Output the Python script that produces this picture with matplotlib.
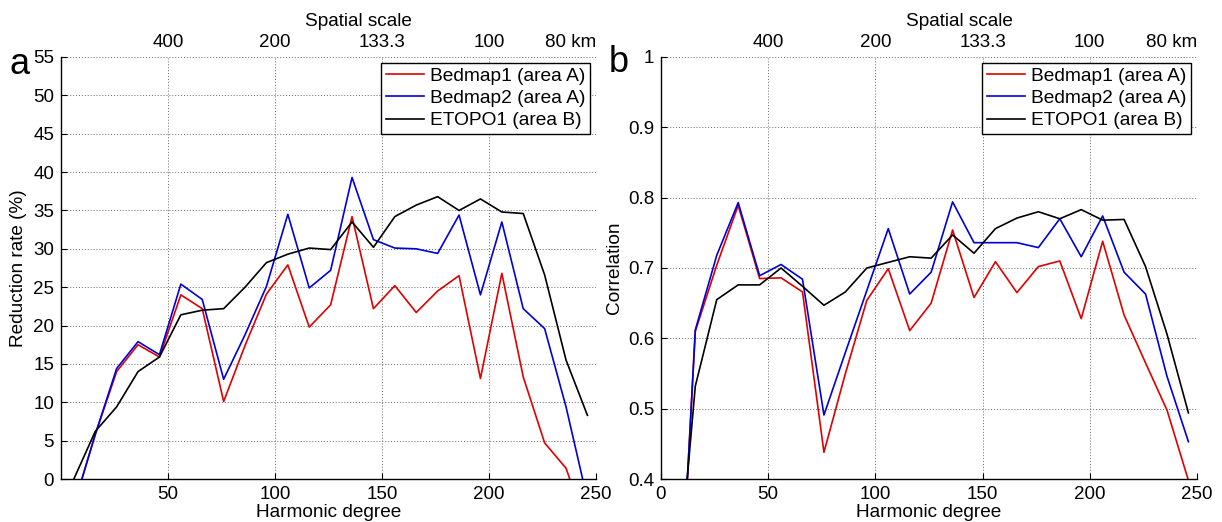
import matplotlib
matplotlib.use('Agg')
import matplotlib.pyplot as plt

plt.rcParams['font.family'] = ['Liberation Sans', 'DejaVu Sans']

# harmonic degree of each point
degree = [6, 16, 26, 36, 46, 56, 66, 76, 86, 96, 106, 116, 126,
          136, 146, 156, 166, 176, 186, 196, 206, 216, 226, 236, 246]

# panel a: reduction rate (%)
red_a = [-3.5, 5.8, 14.0, 17.5, 15.9, 24.0, 22.2, 10.1, 17.4, 24.1, 27.9, 19.8, 22.7,
         34.2, 22.2, 25.2, 21.7, 24.5, 26.5, 13.1, 26.8, 13.3, 4.7, 1.4, -6.6]
blue_a = [-3.5, 5.8, 14.4, 17.9, 16.2, 25.4, 23.4, 13.0, 18.8, 25.1, 34.5, 24.9, 27.2,
          39.3, 31.2, 30.1, 30.0, 29.4, 34.4, 24.0, 33.5, 22.2, 19.6, 9.4, -2.7]
black_a = [0.0, 6.2, 9.4, 14.0, 15.9, 21.4, 22.0, 22.2, 25.0, 28.2, 29.3, 30.1, 29.9,
           33.5, 30.2, 34.2, 35.7, 36.8, 35.0, 36.5, 34.8, 34.6, 26.6, 15.5, 8.3]

# panel b: correlation
red_b = [0.04, 0.610, 0.704, 0.789, 0.685, 0.686, 0.666, 0.438, 0.55, 0.654, 0.699, 0.611, 0.650,
         0.754, 0.658, 0.709, 0.665, 0.702, 0.710, 0.628, 0.738, 0.633, 0.565, 0.498, 0.398]
blue_b = [0.04, 0.612, 0.718, 0.793, 0.689, 0.705, 0.684, 0.491, 0.58, 0.668, 0.756, 0.663, 0.694,
          0.794, 0.736, 0.736, 0.736, 0.729, 0.770, 0.716, 0.774, 0.694, 0.663, 0.546, 0.453]
black_b = [0.185, 0.532, 0.655, 0.676, 0.676, 0.700, 0.674, 0.647, 0.666, 0.700, 0.708, 0.716, 0.714,
           0.747, 0.721, 0.756, 0.771, 0.780, 0.770, 0.783, 0.768, 0.769, 0.702, 0.606, 0.494]

labels = ['Bedmap1 (area A)', 'Bedmap2 (area A)', 'ETOPO1 (area B)']
colors = ['#e00000', '#0000d8', 'black']

top_ticks = [50, 100, 150, 200, 250]
top_labels = ['400', '200', '133.3', '100', '80 km']

fig = plt.figure(figsize=(12.22, 5.22), dpi=100)
ax_a = fig.add_axes([61 / 1222, 43 / 522, 535 / 1222, 422 / 522])
ax_b = fig.add_axes([661 / 1222, 43 / 522, 536 / 1222, 422 / 522])


def setup(ax, series, ylim, yticks, ytick_labels, xticks, xtick_labels, ylabel, ylab_x):
    for vals, lab, c in zip(series, labels, colors):
        ax.plot(degree, vals, color=c, lw=1.2, label=lab)
    ax.set_xlim(0, 250)
    ax.set_ylim(*ylim)
    ax.set_yticks(yticks)
    ax.set_yticklabels(ytick_labels)
    ax.set_xticks(xticks)
    ax.set_xticklabels(xtick_labels)
    ax.grid(True, linestyle=(0, (1, 2)), color='0.4', linewidth=0.7)
    ax.spines['top'].set_visible(False)
    ax.spines['right'].set_visible(False)
    for s in ['left', 'bottom']:
        ax.spines[s].set_linewidth(1.0)
    ax.tick_params(direction='in', length=4, labelsize=13.5, pad=5)
    ax.set_xlabel('Harmonic degree', fontsize=13.7, labelpad=1)
    ax.set_ylabel(ylabel, fontsize=13.7)
    ax.yaxis.set_label_coords(ylab_x, 0.5)

    top = ax.twiny()
    top.set_xlim(0, 250)
    top.set_xticks(top_ticks)
    top.set_xticklabels(top_labels)
    top.tick_params(length=0, labelsize=13.5, pad=4)
    for s in top.spines.values():
        s.set_visible(False)
    lbls = top.get_xticklabels()
    lbls[-1].set_horizontalalignment('right')
    ax.text(0.556, 1.083, 'Spatial scale', transform=ax.transAxes,
            ha='center', va='center', fontsize=13.7)

    leg = ax.legend(loc='upper right', fontsize=13.8, fancybox=False, edgecolor='black',
                    framealpha=1, borderaxespad=0.3, handlelength=2.0, labelspacing=0.25,
                    borderpad=0.25, handletextpad=0.3)
    leg.get_frame().set_linewidth(1.0)


setup(ax_a, [red_a, blue_a, black_a], (0, 55), list(range(0, 56, 5)),
      [str(v) for v in range(0, 56, 5)], [50, 100, 150, 200, 250],
      ['50', '100', '150', '200', '250'], 'Reduction rate (%)', -0.064)

b_ticks = [0.4, 0.5, 0.6, 0.7, 0.8, 0.9, 1.0]
setup(ax_b, [red_b, blue_b, black_b], (0.4, 1.0), b_ticks,
      ['0.4', '0.5', '0.6', '0.7', '0.8', '0.9', '1'], [0, 50, 100, 150, 200, 250],
      ['0', '50', '100', '150', '200', '250'], 'Correlation', -0.071)

fig.text(20 / 1222, 1 - 64 / 522, 'a', fontsize=26, ha='center', va='center')
fig.text(619 / 1222, 1 - 62 / 522, 'b', fontsize=26, ha='center', va='center')

fig.savefig('out.png', dpi=100)
